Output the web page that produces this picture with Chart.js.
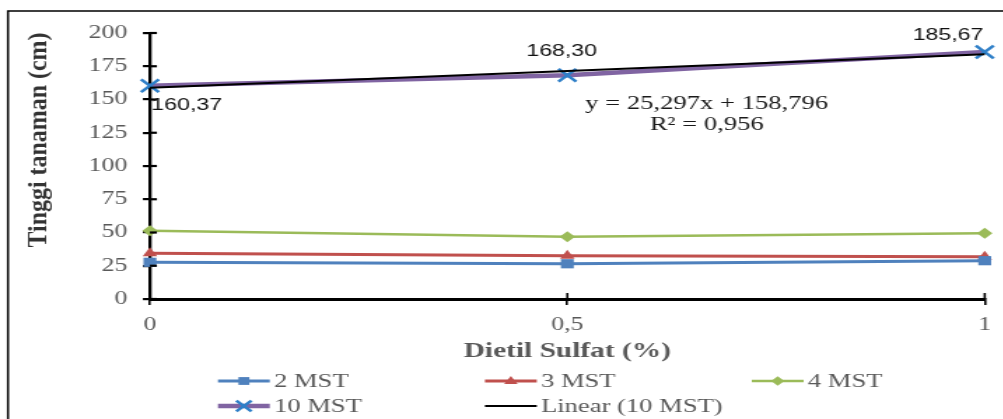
<!DOCTYPE html>
<html>
<head>
<meta charset="utf-8">
<script src="https://cdn.jsdelivr.net/npm/chart.js@4.4.0/dist/chart.umd.min.js"></script>
<style>
  html, body { margin: 0; padding: 0; background: #fff; overflow: hidden; }
  /* the original figure is stretched sideways, so draw narrow and widen it */
  #wrap { width: 717px; height: 419px; transform: scaleX(1.4); transform-origin: 0 0; }
</style>
</head>
<body>
<div id="wrap"><canvas id="chart" width="717" height="419"></canvas></div>
<script>
const stretch = 1.4;

// Data
const doses = [0, 0.5, 1];
const mst2 = [27.6, 26.5, 28.8];
const mst3 = [34.4, 32.6, 31.8];
const mst4 = [51.4, 46.8, 49.4];
const mst10 = [160.37, 168.30, 185.67];
const trendSlope = 25.297;
const trendIntercept = 158.796;
const trendR2 = 0.956;
const seriesNames = ['2 MST', '3 MST', '4 MST', '10 MST', 'Linear (10 MST)'];
const yMin = 0, yMax = 200, yStep = 25;
const xStep = 0.5;

const comma = v => String(v).replace('.', ',');
const pts = vals => doses.map((d, i) => ({ x: d, y: vals[i] }));
const trendPts = [doses[0], doses[doses.length - 1]].map(d => ({ x: d, y: trendSlope * d + trendIntercept }));

function drawMarker(ctx, style, x, y, r, fill, stroke, lw) {
  ctx.save();
  ctx.fillStyle = fill; ctx.strokeStyle = stroke; ctx.lineWidth = lw;
  ctx.beginPath();
  if (style === 'rect') {
    const s = r * Math.SQRT1_2;
    ctx.rect(x - s, y - s, 2 * s, 2 * s); ctx.fill();
  } else if (style === 'triangle') {
    ctx.moveTo(x, y - r); ctx.lineTo(x + r * 0.95, y + r * 0.6); ctx.lineTo(x - r * 0.95, y + r * 0.6);
    ctx.closePath(); ctx.fill();
  } else if (style === 'rectRot') {
    ctx.moveTo(x, y - r); ctx.lineTo(x + r, y); ctx.lineTo(x, y + r); ctx.lineTo(x - r, y);
    ctx.closePath(); ctx.fill();
  } else if (style === 'crossRot') {
    const s = r * Math.SQRT1_2;
    ctx.moveTo(x - s, y - s); ctx.lineTo(x + s, y + s);
    ctx.moveTo(x - s, y + s); ctx.lineTo(x + s, y - s);
    ctx.stroke();
  }
  ctx.restore();
}

const decor = {
  id: 'decor',
  beforeDraw(chart) {
    const ctx = chart.ctx;
    ctx.save();
    ctx.fillStyle = '#fff';
    ctx.fillRect(0, 0, chart.width, chart.height);
    ctx.restore();
  },
  afterDraw(chart) {
    const { ctx, chartArea, scales: { x, y } } = chart;
    ctx.save();

    // inner half of the crossing tick marks
    ctx.strokeStyle = '#000';
    ctx.lineWidth = 2.2;
    y.ticks.forEach(t => {
      const py = y.getPixelForValue(t.value);
      ctx.beginPath(); ctx.moveTo(chartArea.left, py); ctx.lineTo(chartArea.left + 5, py); ctx.stroke();
    });
    ctx.lineWidth = 1.6;
    x.ticks.forEach(t => {
      const px = x.getPixelForValue(t.value);
      ctx.beginPath(); ctx.moveTo(px, chartArea.bottom); ctx.lineTo(px, chartArea.bottom - 6); ctx.stroke();
    });

    // outer frame (only top and left are inside the picture)
    ctx.lineWidth = 1.5;
    ctx.strokeRect(5.7, 11, 800, 500);

    // y axis title, tall and condensed like the original
    ctx.save();
    ctx.translate(39 / stretch, 140);
    ctx.scale(1 / stretch, 1);
    ctx.rotate(-Math.PI / 2);
    ctx.scale(0.92, 1);
    ctx.fillStyle = '#333';
    ctx.font = 'bold 26px "Liberation Serif"';
    ctx.textAlign = 'center';
    ctx.textBaseline = 'middle';
    ctx.fillText('Tinggi tanaman (cm)', 0, 0);
    ctx.restore();

    // x axis title
    ctx.fillStyle = '#595959';
    ctx.font = 'bold 21px "Liberation Serif"';
    ctx.textAlign = 'center';
    ctx.textBaseline = 'middle';
    ctx.fillText('Dietil Sulfat (%)', x.getPixelForValue(0.5), 352);

    // data labels of 10 MST
    const meta = chart.getDatasetMeta(3);
    ctx.fillStyle = '#111';
    ctx.font = '16.5px "Liberation Sans"';
    const lbl = mst10.map(v => v.toFixed(2).replace('.', ','));
    let p = meta.data[0];
    ctx.textAlign = 'left'; ctx.fillText(lbl[0], p.x + 1, p.y + 20);
    p = meta.data[1];
    ctx.textAlign = 'center'; ctx.fillText(lbl[1], p.x - 4, p.y - 24);
    p = meta.data[2];
    ctx.textAlign = 'right'; ctx.fillText(lbl[2], p.x - 1, p.y - 17);

    // trendline equation
    ctx.fillStyle = '#1a1a1a';
    ctx.font = '19px "Liberation Serif"';
    ctx.textAlign = 'center';
    const ex = x.getPixelForValue(0.667);
    ctx.fillText('y = ' + trendSlope.toFixed(3).replace('.', ',') + 'x + ' + trendIntercept.toFixed(3).replace('.', ','), ex, y.getPixelForValue(146.5));
    ctx.fillText('R\u00B2 = ' + trendR2.toFixed(3).replace('.', ','), ex, y.getPixelForValue(130.5));

    // legend, two rows
    const cols = [155.7, 346.4, 537];
    const rows = [381, 406];
    const slots = [[0, 0], [1, 0], [2, 0], [0, 1], [1, 1]];
    ctx.font = '19px "Liberation Serif"';
    ctx.textAlign = 'left';
    chart.data.datasets.forEach((ds, i) => {
      const lx = cols[slots[i][0]], ly = rows[slots[i][1]];
      ctx.strokeStyle = ds.borderColor;
      ctx.lineWidth = ds.borderWidth;
      ctx.beginPath(); ctx.moveTo(lx, ly); ctx.lineTo(lx + 37, ly); ctx.stroke();
      if (ds.pointRadius > 0) {
        drawMarker(ctx, ds.pointStyle, lx + 18.5, ly, ds.pointRadius * 0.85, ds.pointBackgroundColor, ds.pointBorderColor, ds.pointBorderWidth);
      }
      ctx.fillStyle = '#595959';
      ctx.fillText(ds.label, lx + 40, ly + 1);
    });

    ctx.restore();
  }
};

const tickFont = { family: '"Liberation Serif"', size: 18.5 };

new Chart(document.getElementById('chart'), {
  type: 'line',
  data: {
    datasets: [
      { label: seriesNames[0], data: pts(mst2), borderColor: '#4F81BD', borderWidth: 3, clip: false,
        pointStyle: 'rect', pointRadius: 6.5, pointBackgroundColor: '#4F81BD', pointBorderColor: '#4F81BD', pointBorderWidth: 0, order: 1 },
      { label: seriesNames[1], data: pts(mst3), borderColor: '#C0504D', borderWidth: 3, clip: false,
        pointStyle: 'triangle', pointRadius: 6, pointBackgroundColor: '#C0504D', pointBorderColor: '#C0504D', pointBorderWidth: 0, order: 1 },
      { label: seriesNames[2], data: pts(mst4), borderColor: '#9BBB59', borderWidth: 2.5, clip: false,
        pointStyle: 'rectRot', pointRadius: 5.5, pointBackgroundColor: '#9BBB59', pointBorderColor: '#9BBB59', pointBorderWidth: 0, order: 1 },
      { label: seriesNames[3], data: pts(mst10), borderColor: '#8064A2', borderWidth: 4.5, clip: false,
        pointStyle: 'crossRot', pointRadius: 9, pointBackgroundColor: '#2E7FC8', pointBorderColor: '#2E7FC8', pointBorderWidth: 2.5, order: 1 },
      { label: seriesNames[4], data: trendPts, borderColor: '#000', borderWidth: 2, clip: false,
        pointRadius: 0, order: 0 }
    ]
  },
  options: {
    responsive: false,
    animation: false,
    events: [],
    layout: { padding: { top: 33, right: 12.7, left: 0, bottom: 0 } },
    plugins: { legend: { display: false }, tooltip: { enabled: false } },
    scales: {
      x: {
        type: 'linear', min: doses[0], max: doses[doses.length - 1],
        afterFit: s => { s.height = 120; },
        border: { color: '#000', width: 3 },
        grid: { drawOnChartArea: false, drawTicks: true, tickLength: 6, color: '#000', lineWidth: 1.6 },
        ticks: { stepSize: xStep, autoSkip: false, padding: 9, color: '#595959', font: tickFont, callback: v => comma(v) }
      },
      y: {
        min: yMin, max: yMax,
        afterFit: s => { s.width = 107.1; },
        border: { color: '#000', width: 2.3 },
        grid: { drawOnChartArea: false, drawTicks: true, tickLength: 5, color: '#000', lineWidth: 2.2 },
        ticks: { stepSize: yStep, padding: 11, color: '#595959', font: tickFont }
      }
    }
  },
  plugins: [decor]
});
</script>
</body>
</html>
